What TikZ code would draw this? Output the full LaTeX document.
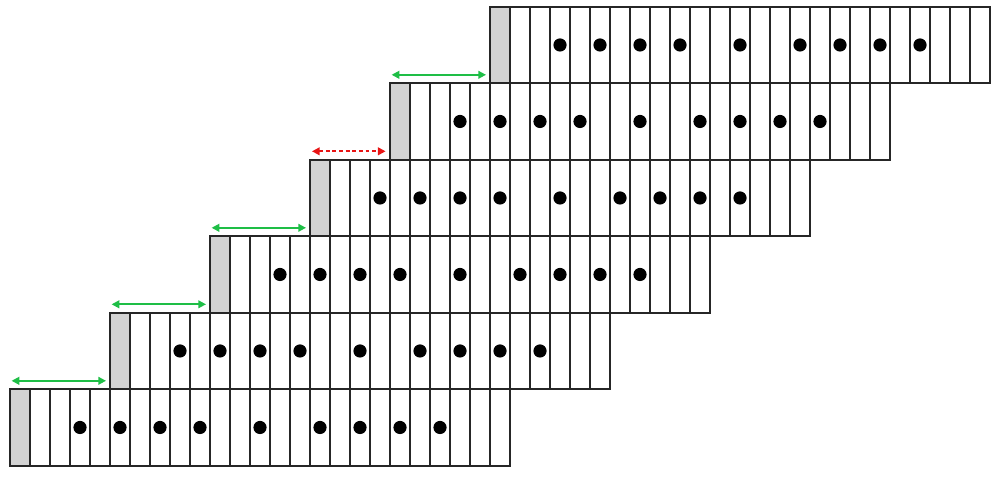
\documentclass[tikz,border=0pt]{standalone}
\usetikzlibrary{arrows.meta,positioning}
\definecolor{cellgray}{RGB}{211,211,211}
\definecolor{gapgreen}{RGB}{30,190,70}
\definecolor{gapred}{RGB}{232,20,20}

\begin{document}
\begin{tikzpicture}[x=0.5cm,y=1.9125cm,
    cell/.style={draw=black!85,line width=1.2pt},
    token/.style={fill=black},
    gap/.style={<->,>={Triangle[length=5.5pt,width=5.5pt]},line width=1.3pt,color=gapgreen},
    skew/.style={gap,color=gapred,dash pattern=on 2.8pt off 1.9pt}]
\useasboundingbox (-0.5,-0.1346) rectangle (49.5,6.088);
% one row per line, shifted by its start cell
\foreach \r/\s in {0/0,1/5,2/10,3/15,4/19,5/24}{
  \coordinate (row\r) at (\s,\r+1);
  \fill[cellgray] (\s,\r) rectangle ++(1,1);
  \foreach \c in {0,...,24}
    \draw[cell] (\s+\c,\r) rectangle ++(1,1);
  \foreach \c in {3,5,7,9,12,15,17,19,21}
    \fill[token] (\s+\c+0.5,\r+0.5) circle (0.165cm);
}
% gaps between the row starts
\foreach \a/\b in {0/1,1/2,2/3,4/5}
  \draw[gap] ([shift={(0.08,0.11)}]row\a) -- ([shift={(-0.2,0.11)}]row\a -| row\b);
\draw[skew] ([shift={(0.1,0.11)}]row3) -- ([shift={(-0.22,0.11)}]row3 -| row4);
\end{tikzpicture}
\end{document}
